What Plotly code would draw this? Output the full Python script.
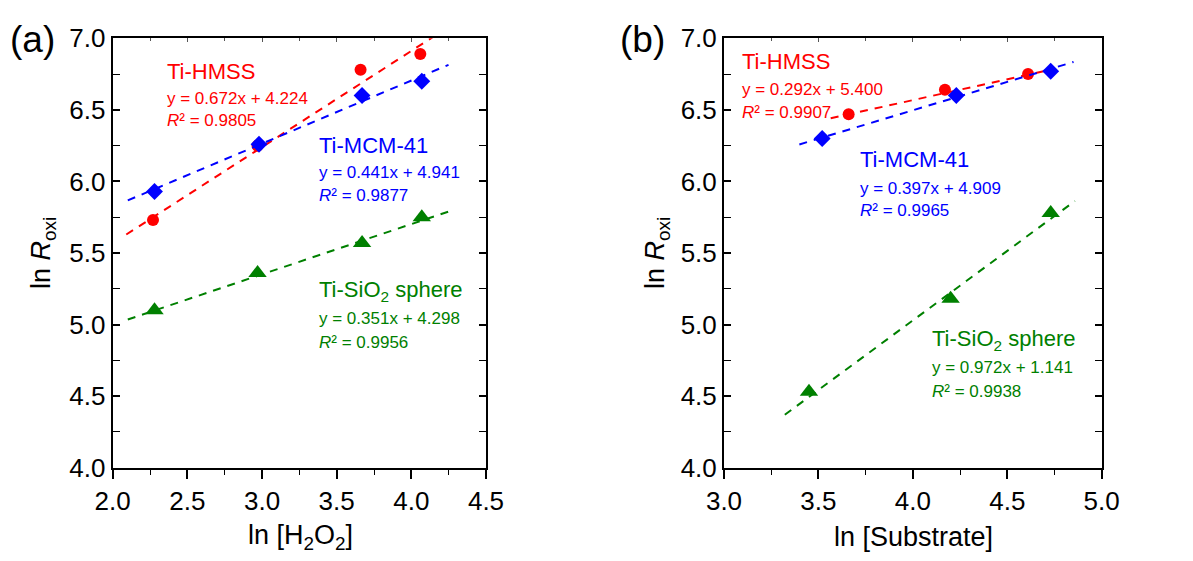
import plotly.graph_objects as go

# ---------------- data ----------------
# Panel (a): ln[H2O2]
a_x_hmss = [2.27, 2.97, 3.66, 4.06]
a_y_hmss = [5.73, 6.25, 6.78, 6.89]
a_x_mcm = [2.28, 2.98, 3.67, 4.07]
a_y_mcm = [5.93, 6.26, 6.60, 6.70]
a_x_sio2 = [2.28, 2.97, 3.67, 4.07]
a_y_sio2 = [5.10, 5.36, 5.57, 5.75]
a_fit_hmss = (0.672, 4.224, 0.9805)
a_fit_mcm = (0.441, 4.941, 0.9877)
a_fit_sio2 = (0.351, 4.298, 0.9956)

# Panel (b): ln[Substrate]
b_x_hmss = [3.66, 4.17, 4.61]
b_y_hmss = [6.47, 6.64, 6.75]
b_x_mcm = [3.52, 4.23, 4.73]
b_y_mcm = [6.30, 6.60, 6.77]
b_x_sio2 = [3.45, 4.20, 4.73]
b_y_sio2 = [4.53, 5.18, 5.78]
b_fit_hmss = (0.292, 5.400, 0.9907)
b_fit_mcm = (0.397, 4.909, 0.9965)
b_fit_sio2 = (0.972, 1.141, 0.9938)

names = ["Ti-HMSS", "Ti-MCM-41", "Ti-SiO<sub>2</sub> sphere"]
colors = ["#FF0000", "#0000FF", "#008000"]
symbols = ["circle", "diamond", "triangle-up"]
msizes = [12, 13, 16]

FONT = "Arial, Liberation Sans, sans-serif"

fig = go.Figure()

panels = [
    dict(xa="x", ya="y",
         xs=[a_x_hmss, a_x_mcm, a_x_sio2], ys=[a_y_hmss, a_y_mcm, a_y_sio2],
         fits=[a_fit_hmss, a_fit_mcm, a_fit_sio2]),
    dict(xa="x2", ya="y2",
         xs=[b_x_hmss, b_x_mcm, b_x_sio2], ys=[b_y_hmss, b_y_mcm, b_y_sio2],
         fits=[b_fit_hmss, b_fit_mcm, b_fit_sio2]),
]

for p in panels:
    for i in range(3):
        xs, ys = p["xs"][i], p["ys"][i]
        m, c, r2 = p["fits"][i]
        span = max(xs) - min(xs)
        x0, x1 = min(xs) - 0.1 * span, max(xs) + 0.1 * span
        fig.add_trace(go.Scatter(
            x=[x0, x1], y=[m * x0 + c, m * x1 + c], mode="lines",
            line=dict(color=colors[i], width=2, dash="8px,7px"),
            xaxis=p["xa"], yaxis=p["ya"], showlegend=False, hoverinfo="skip"))
        fig.add_trace(go.Scatter(
            x=xs, y=ys, mode="markers",
            marker=dict(color=colors[i], symbol=symbols[i], size=msizes[i]),
            xaxis=p["xa"], yaxis=p["ya"], showlegend=False, cliponaxis=False))

# empty traces so the top (mirror-tick) axes get drawn
fig.add_trace(go.Scatter(x=[], y=[], xaxis="x3", yaxis="y", showlegend=False))
fig.add_trace(go.Scatter(x=[], y=[], xaxis="x4", yaxis="y2", showlegend=False))

# ---------------- annotations ----------------
ann = []
# label positions (data coords): (x_left, y_name, y_eq, y_r2)
pos_a = [(2.35, 6.77, 6.577, 6.424), (3.366, 6.25, 6.063, 5.90), (3.366, 5.236, 5.04, 4.877)]
pos_b = [(3.085, 6.835, 6.64, 6.482), (3.711, 6.15, 5.953, 5.796), (4.091, 4.895, 4.70, 4.53)]

for p, pos in zip(panels, [pos_a, pos_b]):
    for i in range(3):
        m, c, r2 = p["fits"][i]
        xl, yn, ye, yr = pos[i]
        common = dict(xref=p["xa"], yref=p["ya"], x=xl, xanchor="left",
                      yanchor="middle", showarrow=False)
        ann.append(dict(text=names[i], y=yn,
                        font=dict(family=FONT, size=22, color=colors[i]), **common))
        ann.append(dict(text=f"y = {m:.3f}x + {c:.3f}", y=ye,
                        font=dict(family=FONT, size=17, color=colors[i]), **common))
        ann.append(dict(text=f"<i>R</i>² = {r2:.4f}", y=yr,
                        font=dict(family=FONT, size=17, color=colors[i]), **common))

W, H = 1193, 561
OFF = 8  # page body margin
def px(x):
    return (x - OFF) / W
def py(y):
    return 1 - (y - OFF) / H

def pann(text, x, y, size, angle=0):
    return dict(text=text, x=px(x), y=py(y), xref="paper", yref="paper",
                xanchor="center", yanchor="middle", showarrow=False,
                textangle=angle, font=dict(family=FONT, size=size, color="black"))

# panel letters
ann.append(pann("(a)", 32, 39, 37))
ann.append(pann("(b)", 642, 39, 37))
# axis titles
ann.append(pann("ln [H<sub>2</sub>O<sub>2</sub>]", 300, 537, 27))
ann.append(pann("ln [Substrate]", 913, 537, 27))
for xc in (43, 657):
    ann.append(pann("ln <i>R</i><sub>oxi</sub>", xc, 253, 27, -90))

ydom = [py(467.7), py(38.3)]
xdom_a = [px(112.7), px(486)]
xdom_b = [px(724), px(1101.7)]

def xaxis(dom, rng, anchor):
    return dict(domain=dom, range=rng, anchor=anchor, dtick=0.5, tickformat=".1f",
                ticks="outside", ticklen=9, tickwidth=1.5, tickcolor="black",
                minor=dict(ticks="outside", ticklen=5, dtick=0.25, tickwidth=1.2,
                           tickcolor="black"),
                showline=True, linecolor="black", linewidth=2, mirror=True,
                showgrid=False, zeroline=False, automargin=False,
                tickfont=dict(family=FONT, size=26, color="black"))

def xtop(over, rng, anchor):
    return dict(overlaying=over, side="top", anchor=anchor, range=rng, dtick=0.5,
                ticks="inside", ticklen=4, tickwidth=1, tickcolor="#555555",
                minor=dict(ticks="inside", ticklen=3, dtick=0.25, tickwidth=1,
                           tickcolor="#555555"),
                showticklabels=False, showline=False, showgrid=False,
                zeroline=False, automargin=False)

def yaxis(rng, anchor):
    return dict(domain=ydom, range=rng, anchor=anchor, dtick=0.5, tickformat=".1f",
                ticks="inside", ticklen=7, tickwidth=1.5, tickcolor="black",
                minor=dict(ticks="inside", ticklen=4, dtick=0.25, tickwidth=1.2,
                           tickcolor="black"),
                showline=True, linecolor="black", linewidth=2, mirror="allticks",
                showgrid=False, zeroline=False, automargin=False,
                tickfont=dict(family=FONT, size=26, color="black"))

fig.update_layout(
    width=W, height=H,
    margin=dict(l=0, r=0, t=0, b=0, autoexpand=False),
    paper_bgcolor="white", plot_bgcolor="white",
    xaxis=xaxis(xdom_a, [2.0, 4.5], "y"),
    yaxis=yaxis([4.0, 7.0], "x"),
    xaxis2=xaxis(xdom_b, [3.0, 5.0], "y2"),
    yaxis2=yaxis([4.0, 7.0], "x2"),
    xaxis3=xtop("x", [2.0, 4.5], "y"),
    xaxis4=xtop("x2", [3.0, 5.0], "y2"),
    annotations=ann,
    showlegend=False,
)

fig.write_html("out.html")
